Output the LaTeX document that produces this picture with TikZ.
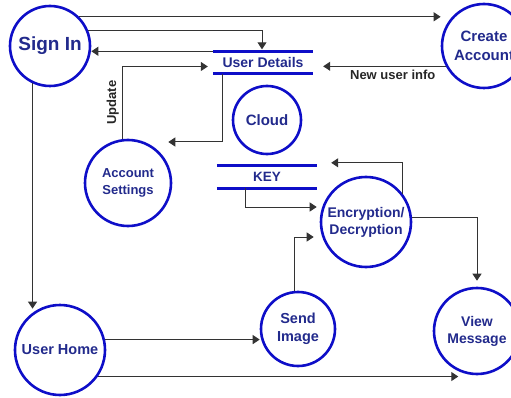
\documentclass[tikz,border=0pt]{standalone}
\usepackage{fontspec}
\setmainfont{Liberation Sans}
\usetikzlibrary{arrows.meta}
\definecolor{procblue}{RGB}{14,14,200}
\definecolor{labelblue}{RGB}{34,42,140}

\begin{document}
\begin{tikzpicture}[x=1pt, y=-1pt, >={Triangle[length=7pt,width=9pt]},
  proc/.style={draw=procblue, circle, line width=2.6pt, inner sep=0pt, align=center, text=labelblue},
  store/.style={minimum width=100pt, minimum height=22pt, inner sep=0pt, text=labelblue},
  storeline/.style={draw=procblue, line width=3pt},
  flow/.style={->, line width=1pt, draw=black!80},
  flowlabel/.style={font=\bfseries\fontsize{13}{15}\selectfont, text=black!85}]

\useasboundingbox (0,0) rectangle (511,398);

% Processos
\node[proc, minimum size=80pt, font=\bfseries\fontsize{19}{22}\selectfont] (signin) at (50,46) {Sign In};
\node[proc, minimum size=84pt, font=\bfseries\fontsize{15}{19}\selectfont] (create) at (484,46) {Create\\Account};
\node[proc, minimum size=68pt, font=\bfseries\fontsize{15}{18}\selectfont] (cloud) at (267,120) {Cloud};
\node[proc, minimum size=86pt, font=\bfseries\fontsize{13}{17}\selectfont] (acct) at (128,183) {Account\\Settings};
\node[proc, minimum size=90pt, font=\bfseries\fontsize{14}{17}\selectfont] (enc) at (366,222) {Encryption/\\Decryption};
\node[proc, minimum size=90pt, font=\bfseries\fontsize{14.5}{17}\selectfont] (home) at (60,350) {User Home};
\node[proc, minimum size=74pt, font=\bfseries\fontsize{14.5}{18}\selectfont] (send) at (298,329) {Send\\Image};
\node[proc, minimum size=86pt, font=\bfseries\fontsize{14}{17}\selectfont] (view) at (477,331) {View\\Message};

% Armazenamento
\node[store, font=\bfseries\fontsize{14}{16}\selectfont] (details) at (263,62.5) {User Details};
\node[store, font=\bfseries\fontsize{13.5}{16}\selectfont] (key) at (267,177) {KEY};
\draw[storeline] (details.north west) -- (details.north east) (details.south west) -- (details.south east);
\draw[storeline] (key.north west) -- (key.north east) (key.south west) -- (key.south east);

% Fluxos
\draw[flow] (signin.45) -- (signin.45 -| create.west);
\draw[flow, shorten >=2pt] (signin.22) -| ([xshift=-1pt]details.north);
\draw[flow] (details.north west) -- (signin.east |- details.north west);
\draw[flow, shorten >=5pt] (acct.97) |- ([yshift=-4pt]details.west)
  node[flowlabel, pos=0.25, rotate=90, anchor=south] {Update};
\draw[flow] ([xshift=-41pt]details.south) |- ([xshift=-4pt, yshift=41pt]acct.east);
\draw[flow, shorten >=10pt] (create.208) -- (details.east |- create.208)
  node[flowlabel, pos=0.4, below] {New user info};
\draw[flow] (enc.37) |- ([xshift=14pt, yshift=3pt]key.north east);
\draw[flow, shorten >=3pt] ([xshift=-22pt]key.south) |- ([yshift=15pt]enc.west);
\draw[flow, shorten >=6pt] (send.95) |- ([yshift=-15pt]enc.west);
\draw[flow, shorten >=6pt] (enc.5) -| (view.north);
\draw[flow, shorten >=-5pt] (signin.245) -- (signin.245 |- home.north);
\draw[flow] (home.13) -- (home.13 -| send.west);
\draw[flow] (home.-35) -- (home.-35 -| view.245);
\end{tikzpicture}
\end{document}
